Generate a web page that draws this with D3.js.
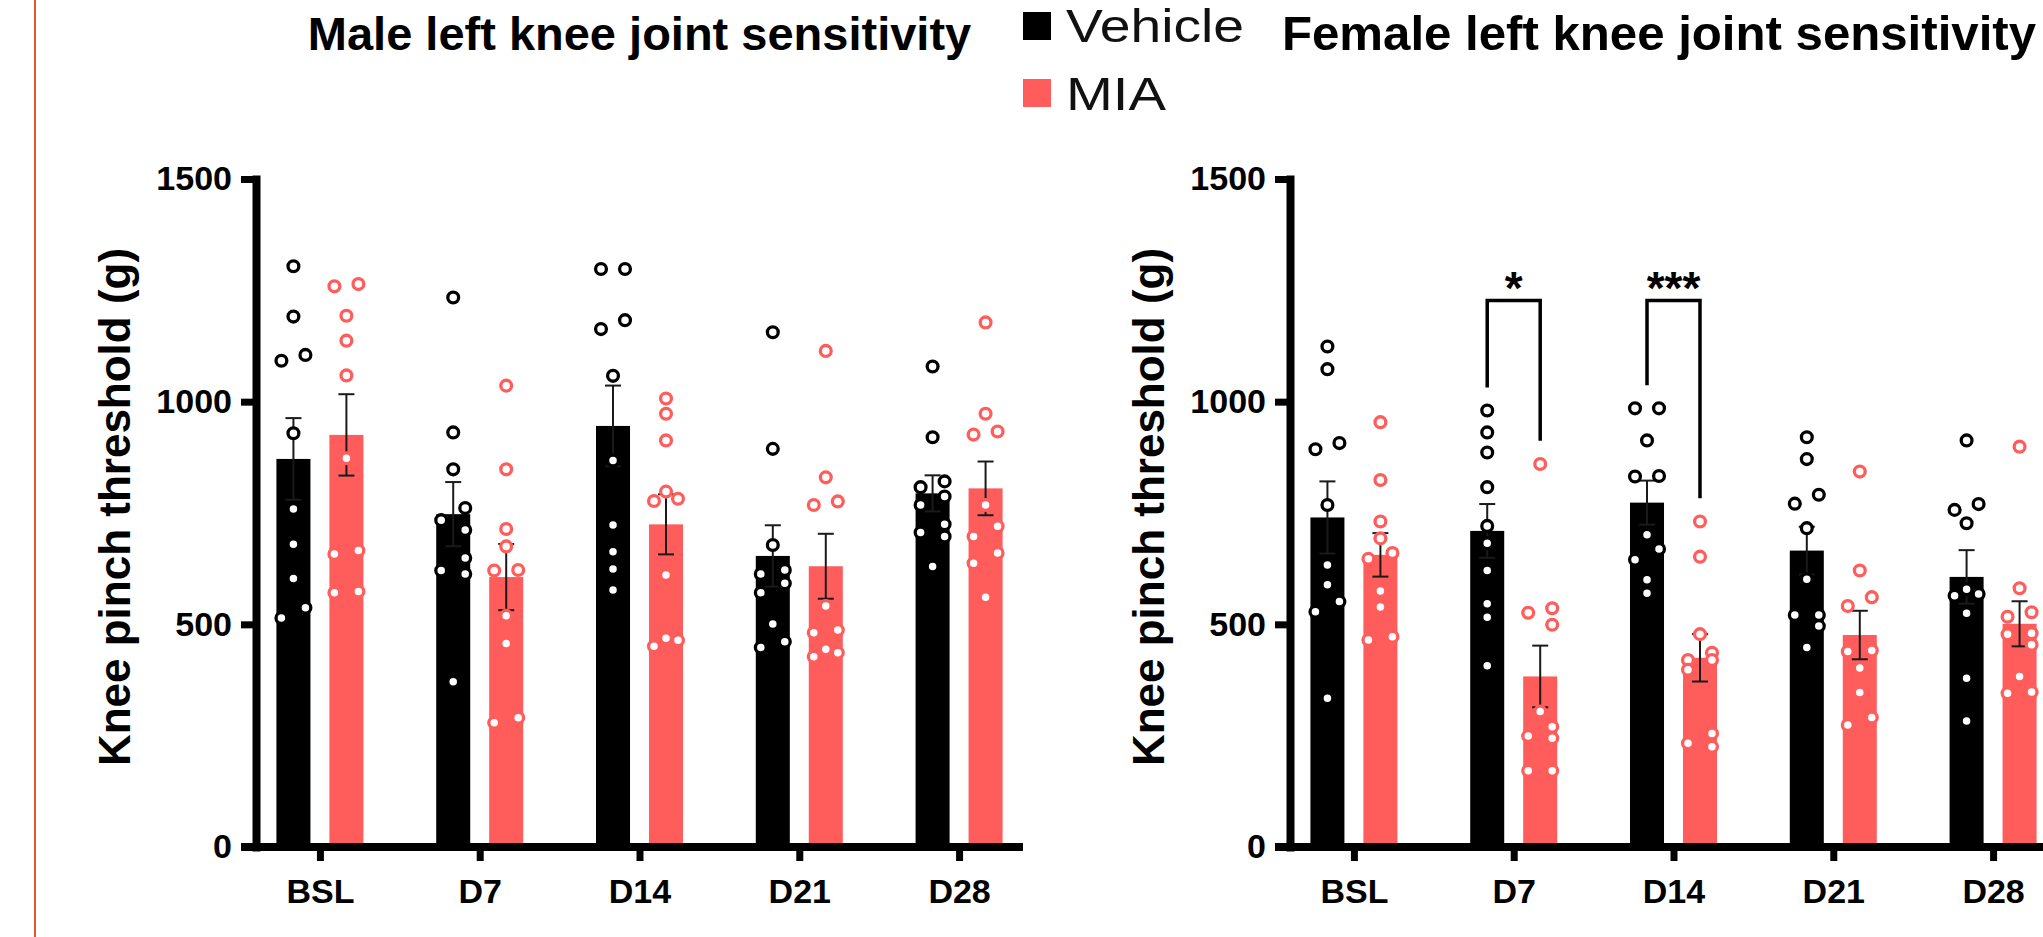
<!DOCTYPE html>
<html>
<head>
<meta charset="utf-8">
<script src="https://cdn.jsdelivr.net/npm/d3@7"></script>
<style>
  body { margin: 0; background: #fff; }
  svg text { font-family: "Liberation Sans", Arial, sans-serif; }
</style>
</head>
<body>
<div id="chart"></div>
<script>
const width = 2043,
    height = 937;

const timepoints = ["BSL", "D7", "D14", "D21", "D28"];
const groups = ["Vehicle", "MIA"];
const yTicks = [0, 500, 1000, 1500];

// one array of animals per timepoint (g)
const maleVehicle = [
    [1304, 1191, 1105, 1092, 929, 759, 680, 603, 537, 514],
    [1234, 931, 848, 761, 734, 712, 649, 621, 613, 371],
    [1298, 1298, 1183, 1163, 1058, 868, 723, 663, 624, 577],
    [1156, 894, 678, 622, 613, 592, 571, 501, 461, 448],
    [1079, 920, 821, 808, 787, 768, 725, 706, 697, 630]
];
const maleMIA = [
    [1264, 1259, 1193, 1137, 1059, 873, 666, 658, 574, 571],
    [1036, 848, 714, 675, 622, 621, 519, 457, 290, 279],
    [1007, 973, 913, 798, 782, 777, 611, 469, 464, 451],
    [1114, 830, 776, 768, 541, 487, 481, 444, 436, 427],
    [1178, 973, 933, 926, 768, 720, 697, 660, 637, 561]
];
const femaleVehicle = [
    [1124, 1073, 907, 893, 768, 633, 589, 551, 528, 334],
    [980, 931, 886, 808, 721, 682, 621, 546, 516, 407],
    [985, 985, 913, 833, 832, 701, 669, 645, 600, 570],
    [920, 871, 791, 771, 716, 601, 521, 521, 496, 448],
    [913, 770, 757, 727, 579, 568, 564, 525, 379, 283]
];
const femaleMIA = [
    [954, 824, 731, 693, 660, 647, 575, 539, 472, 465],
    [860, 536, 526, 499, 304, 270, 249, 244, 171, 171],
    [731, 652, 478, 436, 420, 420, 398, 255, 233, 225],
    [843, 621, 561, 541, 441, 439, 402, 347, 291, 274],
    [899, 581, 527, 517, 480, 478, 454, 383, 348, 345]
];
const maleSig = [];
const femaleSig = [
    { time: "D7", label: "*" },
    { time: "D14", label: "***" }
];
const sigTop = 1227;

const colour = d3.scaleOrdinal().domain(groups).range(["#000000", "#ff5c5c"]);

const svg = d3
    .select("#chart")
    .append("svg")
    .attr("width", width)
    .attr("height", height);

// orange frame line on the left
svg.append("line")
    .attr("x1", 35).attr("x2", 35)
    .attr("y1", 0).attr("y2", height)
    .attr("stroke", "#e4572e")
    .attr("stroke-width", 2);

const y = d3.scaleLinear().domain([0, 1500]).range([847, 179]);

// spread dots that overlap vertically, a bit like Prism does
function swarm(values) {
    const dia = 13, gap = 12;
    const sorted = values.map((v) => ({ v })).sort((a, b) => b.v - a.v);
    const out = [];
    let run = [];
    const flush = () => {
        const span = y(run[run.length - 1].v) - y(run[0].v);
        if (run.length === 1) run[0].dx = 0;
        else if (run.length === 3 && span < 10) {
            run[0].dx = 0;
            run[1].dx = gap;
            run[2].dx = -gap;
        } else run.forEach((d, k) => (d.dx = k % 2 === 0 ? gap : -gap));
        out.push(...run);
        run = [];
    };
    sorted.forEach((d) => {
        if (run.length && y(d.v) - y(run[run.length - 1].v) >= dia) flush();
        run.push(d);
    });
    if (run.length) flush();
    return out;
}

function drawPanel(left, vehicle, mia, sig) {
    const right = left + 767;
    const x = d3.scalePoint().domain(timepoints).range([left, right]).padding(0.4);
    const xg = d3.scaleBand().domain(groups).range([-43.5, 43.5]).paddingInner(0.358);

    const rows = [];
    timepoints.forEach((t, i) => {
        [vehicle[i], mia[i]].forEach((vals, j) => {
            const mean = d3.mean(vals);
            const sem = d3.deviation(vals) / Math.sqrt(vals.length);
            rows.push({ time: t, group: groups[j], vals, mean, sem });
        });
    });

    const g = svg.append("g");

    // bars
    g.selectAll(".bar")
        .data(rows)
        .enter()
        .append("rect")
        .attr("x", (d) => x(d.time) + xg(d.group))
        .attr("y", (d) => y(d.mean))
        .attr("width", xg.bandwidth())
        .attr("height", (d) => y(0) - y(d.mean))
        .attr("fill", (d) => colour(d.group));

    // error bars (mean +/- SEM)
    const err = g.selectAll(".err").data(rows).enter().append("g")
        .attr("transform", (d) => "translate(" + (x(d.time) + xg(d.group) + xg.bandwidth() / 2) + ",0)")
        .attr("stroke", "#1a1a1a")
        .attr("stroke-width", 2);
    err.append("line")
        .attr("y1", (d) => y(d.mean - d.sem))
        .attr("y2", (d) => y(d.mean + d.sem));
    err.append("line")
        .attr("x1", -8).attr("x2", 8)
        .attr("y1", (d) => y(d.mean + d.sem))
        .attr("y2", (d) => y(d.mean + d.sem));
    err.append("line")
        .attr("x1", -8).attr("x2", 8)
        .attr("y1", (d) => y(d.mean - d.sem))
        .attr("y2", (d) => y(d.mean - d.sem));

    // individual animals
    rows.forEach((r) => {
        const cx = x(r.time) + xg(r.group) + xg.bandwidth() / 2;
        g.append("g")
            .selectAll("circle")
            .data(swarm(r.vals))
            .enter()
            .append("circle")
            .attr("cx", (d) => cx + d.dx)
            .attr("cy", (d) => y(d.v))
            .attr("r", 5.4)
            .attr("fill", "#fff")
            .attr("stroke", colour(r.group))
            .attr("stroke-width", 3.3);
    });

    // significance brackets
    sig.forEach((s) => {
        const i = timepoints.indexOf(s.time);
        const x1 = x(s.time) + xg("Vehicle") + xg.bandwidth() / 2;
        const x2 = x(s.time) + xg("MIA") + xg.bandwidth() / 2;
        const yl = y(d3.max(vehicle[i]) + 52);
        const yr = y(d3.max(mia[i]) + 52);
        g.append("path")
            .attr("d", "M" + x1 + "," + yl + "V" + y(sigTop) + "H" + x2 + "V" + yr)
            .attr("fill", "none")
            .attr("stroke", "#000")
            .attr("stroke-width", 3.5);
        g.append("text")
            .attr("x", (x1 + x2) / 2)
            .attr("y", y(sigTop) + 3)
            .attr("text-anchor", "middle")
            .attr("font-size", 46)
            .attr("font-weight", "bold")
            .text(s.label);
    });

    // y axis
    const yAxis = g.append("g")
        .attr("transform", "translate(" + left + ",0)")
        .call(d3.axisLeft(y).tickValues(yTicks).tickFormat(d3.format("d"))
            .tickSize(15).tickSizeOuter(0).tickPadding(9));
    yAxis.select(".domain").attr("stroke-width", 8).attr("stroke-linecap", "square");
    yAxis.selectAll(".tick line").attr("stroke-width", 7);
    yAxis.selectAll(".tick text")
        .attr("font-size", 34)
        .attr("font-weight", "bold")
        .attr("fill", "#000")
        .style("font-family", "'Liberation Sans', Arial, sans-serif");

    // x axis
    const xAxis = g.append("g")
        .attr("transform", "translate(0," + y(0) + ")")
        .call(d3.axisBottom(x).tickSize(14).tickSizeOuter(0).tickPadding(18));
    xAxis.select(".domain")
        .attr("d", "M" + (left - 15) + ",0H" + right)
        .attr("stroke-width", 8);
    xAxis.selectAll(".tick line").attr("stroke-width", 7);
    xAxis.selectAll(".tick text")
        .attr("font-size", 34)
        .attr("font-weight", "bold")
        .attr("fill", "#000")
        .style("font-family", "'Liberation Sans', Arial, sans-serif");

    // y axis label
    g.append("text")
        .attr("transform", "translate(" + (left - 126) + ",507) rotate(-90)")
        .attr("text-anchor", "middle")
        .attr("font-size", 44)
        .attr("font-weight", "bold")
        .text("Knee pinch threshold (g)");

    return { g, left, right };
}

const male = drawPanel(256, maleVehicle, maleMIA, maleSig);
const female = drawPanel(1290, femaleVehicle, femaleMIA, femaleSig);

// titles
male.g.append("text")
    .attr("x", (male.left + male.right) / 2)
    .attr("y", 50)
    .attr("text-anchor", "middle")
    .attr("font-size", 47)
    .attr("font-weight", "bold")
    .text("Male left knee joint sensitivity");
female.g.append("text")
    .attr("x", 1282)
    .attr("y", 50)
    .attr("font-size", 48)
    .attr("font-weight", "bold")
    .attr("textLength", 754)
    .attr("lengthAdjust", "spacingAndGlyphs")
    .text("Female left knee joint sensitivity");

// legend
const legendWidths = [178, 100];
const legend = svg.append("g").attr("id", "legend");
legend.selectAll("rect")
    .data(groups)
    .enter()
    .append("rect")
    .attr("x", 1023)
    .attr("y", (d, i) => 12 + i * 67)
    .attr("width", 28)
    .attr("height", 28)
    .attr("fill", (d) => colour(d));
legend.selectAll("text")
    .data(groups)
    .enter()
    .append("text")
    .attr("x", 1066)
    .attr("y", (d, i) => 42 + i * 68)
    .attr("font-size", 46)
    .attr("fill", "#111")
    .attr("textLength", (d, i) => legendWidths[i])
    .attr("lengthAdjust", "spacingAndGlyphs")
    .text((d) => d);
</script>
</body>
</html>
